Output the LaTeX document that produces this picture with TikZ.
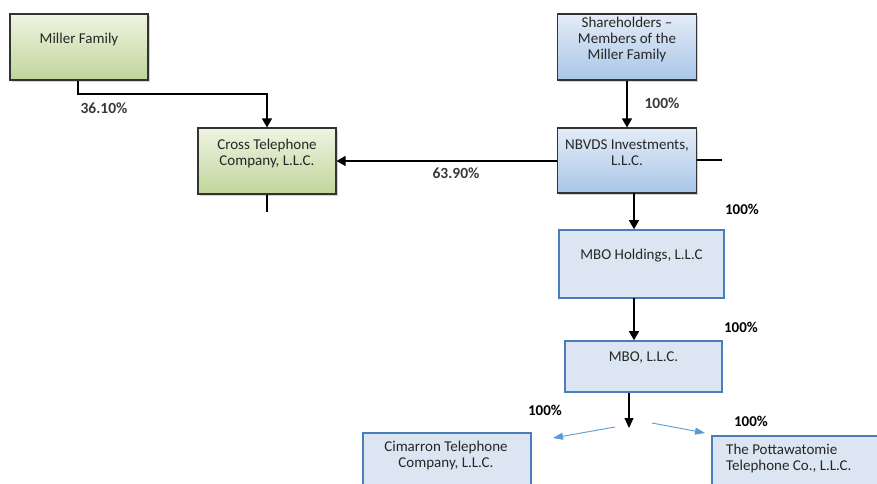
\documentclass[tikz,border=0pt]{standalone}
\usepackage{fontspec}
\setmainfont{Carlito}
\usetikzlibrary{arrows.meta,shadows}
\definecolor{gtop}{HTML}{EEF4E2}
\definecolor{gbot}{HTML}{BFD59A}
\definecolor{btop}{HTML}{E4ECF7}
\definecolor{bbot}{HTML}{A9C6E8}
\definecolor{lfill}{HTML}{DCE6F2}
\definecolor{lbord}{HTML}{4A7EBB}
\definecolor{barrow}{HTML}{5B9BD5}
\definecolor{txt}{HTML}{262626}
\definecolor{pctgray}{HTML}{3A3A3A}
\tikzset{
  gradbox/.style={draw=black!80, line width=1.1pt, rectangle, inner sep=0pt,
    drop shadow={shadow xshift=1.5pt, shadow yshift=-1.5pt, opacity=0.35}},
  greenbox/.style={gradbox, top color=gtop, bottom color=gbot},
  bluebox/.style={gradbox, top color=btop, bottom color=bbot},
  flatbox/.style={draw=lbord, line width=1.6pt, fill=lfill, rectangle, inner sep=0pt},
  boxtext/.style={font=\fontsize{15}{16}\selectfont, text=txt, align=center, inner sep=0pt},
  pct/.style={font=\bfseries\fontsize{15.5}{17}\selectfont, text=pctgray, inner sep=0pt},
  pctb/.style={font=\bfseries\fontsize{15}{17}\selectfont, text=black, inner sep=0pt},
  conn/.style={line width=1.3pt, black, -{Triangle[width=10pt,length=9pt]}},
  plain/.style={line width=1.3pt, black},
  bconn/.style={line width=0.9pt, barrow, -{Triangle[width=7pt,length=10pt]}}
}
\begin{document}
\begin{tikzpicture}[x=1pt,y=-1pt]
\useasboundingbox (0,0) rectangle (877,483);
\clip (0,0) rectangle (877,483);
\fill[white] (0,0) rectangle (877,483);
% boxes
\node[greenbox, minimum width=138pt, minimum height=66pt] (miller) at (79,47) {};
\node[boxtext] (millert) at (79,39) {Miller Family};
\node[greenbox, minimum width=138pt, minimum height=66pt] (cross) at (267,161) {};
\node[boxtext] (crosst) at (267,153) {Cross Telephone\\Company, L.L.C.};
\node[bluebox, minimum width=139pt, minimum height=66pt] (share) at (627,47) {};
\node[boxtext] (sharet) at (627,39) {Shareholders --\\Members of the\\Miller Family};
\node[bluebox, minimum width=139pt, minimum height=65pt] (nbvds) at (627,160.5) {};
\node[boxtext] (nbvdst) at (627,153) {NBVDS Investments,\\L.L.C.};
\node[flatbox, minimum width=165pt, minimum height=68pt] (mboh) at (641.5,264) {};
\node[boxtext] (mboht) at (641.5,256) {MBO Holdings, L.L.C};
\node[flatbox, minimum width=157pt, minimum height=51pt] (mbo) at (643.5,366.5) {};
\node[boxtext] (mbot) at (643.5,358) {MBO, L.L.C.};
\node[flatbox, minimum width=168pt, minimum height=80pt, anchor=north west] (cim) at (362,432) {};
\node[boxtext] (cimt) at (446,455) {Cimarron Telephone\\Company, L.L.C.};
\node[flatbox, minimum width=180pt, minimum height=80pt, anchor=north west] (pott) at (711,435) {};
\node[boxtext, align=left, anchor=west] (pottt) at (726,458) {The Pottawatomie\\Telephone Co., L.L.C.};
% coordinates
\coordinate (m1) at (78,94);
\coordinate (m2) at (267,94);
\coordinate (crossstub) at (267,212);
\coordinate (nbstub) at (722,160);
\coordinate (nb1) at (634,193);
\coordinate (h1) at (634,298);
\coordinate (split) at (629,428);
\coordinate (lstart) at (615,427);
\coordinate (lend) at (553,438);
\coordinate (rstart) at (652,423);
\coordinate (rend) at (705,433);
% connectors
\draw[conn] (miller.south -| m1) -- (m1) -- (m2) -- (cross.north);
\draw[plain] (cross.south) -- (crossstub);
\draw[conn] (share.south) -- (nbvds.north);
\draw[conn] (nbvds.west |- cross.east) -- (cross.east);
\draw[plain] (nbvds.east |- nbstub) -- (nbstub);
\draw[conn] (nb1) -- (nb1 |- mboh.north);
\draw[conn] (h1) -- (h1 |- mbo.north);
\draw[line width=1.1pt, black, -{Triangle[width=9pt,length=10pt]}] (mbo.south -| split) -- (split);
\draw[bconn] (lstart) -- (lend);
\draw[bconn] (rstart) -- (rend);
% labels
\node[pct] (l1) at (104,108) {36.10\%};
\node[pct] (l2) at (662,103) {100\%};
\node[pct] (l3) at (456,173) {63.90\%};
\node[pctb] (l4) at (742,209) {100\%};
\node[pctb] (l5) at (741,327) {100\%};
\node[pctb] (l6) at (545,410) {100\%};
\node[pctb] (l7) at (751,421) {100\%};
\end{tikzpicture}
\end{document}
